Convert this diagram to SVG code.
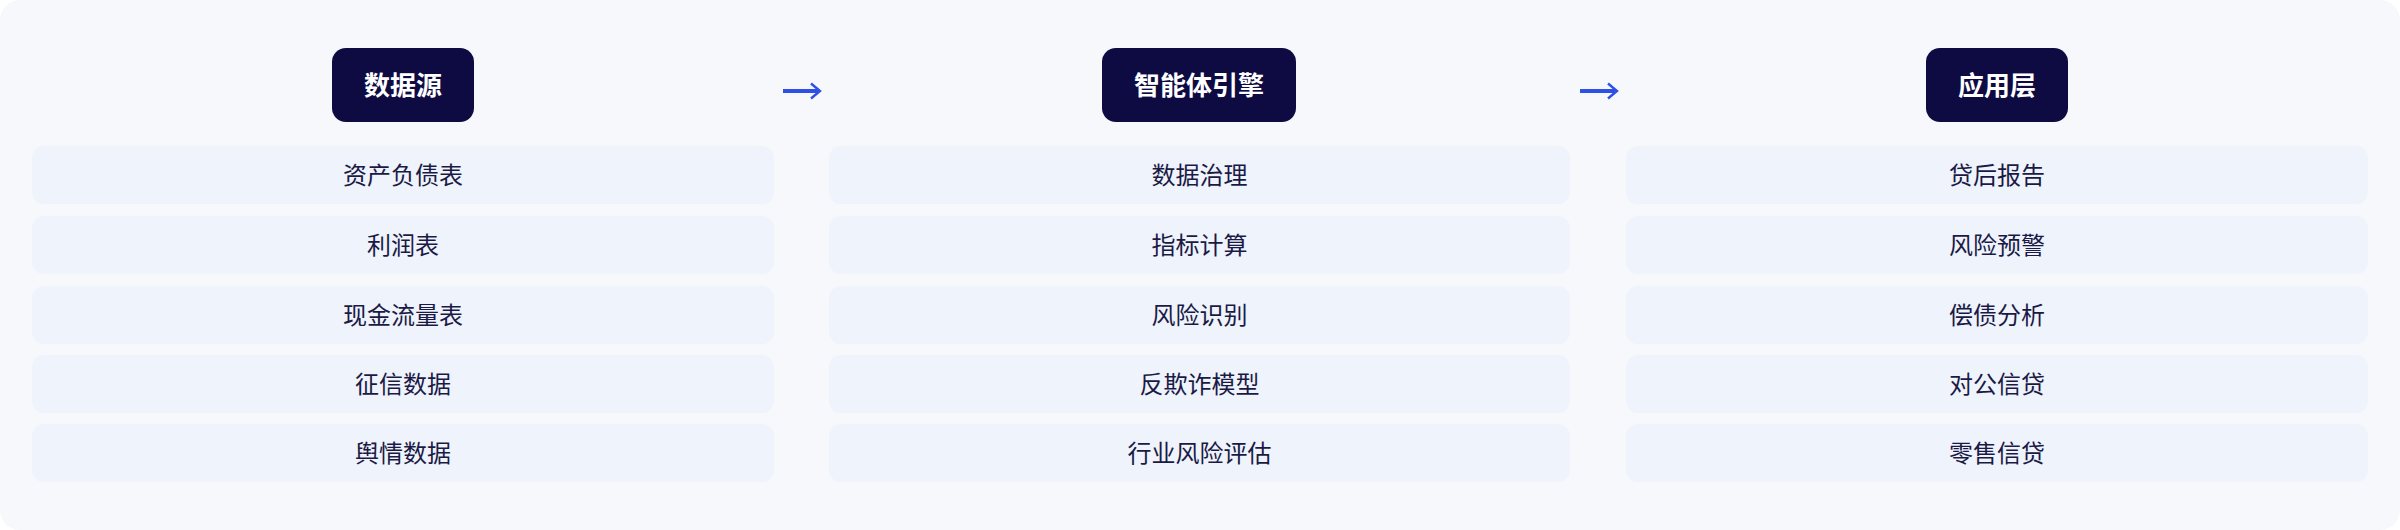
<svg xmlns="http://www.w3.org/2000/svg" width="2400" height="530" viewBox="0 0 2400 530">
  <style>
    .hdr { fill: #0E0B43; }
    .hdr-t { fill: #FFFFFF; font-family: "Noto Sans CJK SC", "Noto Sans", sans-serif; font-size: 26px; font-weight: 700; text-anchor: middle; }
    .item { fill: #EEF3FC; }
    .item-t { fill: #1B1A45; font-family: "Noto Sans CJK SC", "Noto Sans", sans-serif; font-size: 24px; font-weight: 400; text-anchor: middle; }
    .conn { stroke: #2D50E6; stroke-width: 4; fill: none; stroke-linecap: butt; stroke-linejoin: miter; }
    .head { stroke: #2D50E6; stroke-width: 2.4; fill: none; }
  </style>
  <rect x="0" y="0" width="2400" height="530" fill="#FFFFFF"/>
  <rect id="panel" x="0" y="0" width="2400" height="530" rx="20" ry="20" fill="#F7F8FB"/>

  <g id="connectors">
    <g id="arrow-1">
      <line class="conn" x1="783" y1="91" x2="818" y2="91"/>
      <polyline class="head" points="811,83.5 820,91 811,98.5"/>
    </g>
    <g id="arrow-2">
      <line class="conn" x1="1580" y1="91" x2="1615" y2="91"/>
      <polyline class="head" points="1608,83.5 1617,91 1608,98.5"/>
    </g>
  </g>

  <g id="col-datasource">
    <g id="hdr-datasource">
      <rect class="hdr" x="332" y="48" width="142" height="74" rx="14"/>
      <text class="hdr-t" x="403" y="95">数据源</text>
    </g>
    <g id="ds-1"><rect class="item" x="32" y="146" width="742" height="58" rx="12"/><text class="item-t" x="403" y="184">资产负债表</text></g>
    <g id="ds-2"><rect class="item" x="32" y="216" width="742" height="58" rx="12"/><text class="item-t" x="403" y="254">利润表</text></g>
    <g id="ds-3"><rect class="item" x="32" y="286" width="742" height="58" rx="12"/><text class="item-t" x="403" y="324">现金流量表</text></g>
    <g id="ds-4"><rect class="item" x="32" y="355" width="742" height="58" rx="12"/><text class="item-t" x="403" y="393">征信数据</text></g>
    <g id="ds-5"><rect class="item" x="32" y="424" width="742" height="58" rx="12"/><text class="item-t" x="403" y="462">舆情数据</text></g>
  </g>

  <g id="col-engine">
    <g id="hdr-engine">
      <rect class="hdr" x="1102" y="48" width="194" height="74" rx="14"/>
      <text class="hdr-t" x="1199" y="95">智能体引擎</text>
    </g>
    <g id="en-1"><rect class="item" x="829" y="146" width="741" height="58" rx="12"/><text class="item-t" x="1199.5" y="184">数据治理</text></g>
    <g id="en-2"><rect class="item" x="829" y="216" width="741" height="58" rx="12"/><text class="item-t" x="1199.5" y="254">指标计算</text></g>
    <g id="en-3"><rect class="item" x="829" y="286" width="741" height="58" rx="12"/><text class="item-t" x="1199.5" y="324">风险识别</text></g>
    <g id="en-4"><rect class="item" x="829" y="355" width="741" height="58" rx="12"/><text class="item-t" x="1199.5" y="393">反欺诈模型</text></g>
    <g id="en-5"><rect class="item" x="829" y="424" width="741" height="58" rx="12"/><text class="item-t" x="1199.5" y="462">行业风险评估</text></g>
  </g>

  <g id="col-app">
    <g id="hdr-app">
      <rect class="hdr" x="1926" y="48" width="142" height="74" rx="14"/>
      <text class="hdr-t" x="1997" y="95">应用层</text>
    </g>
    <g id="ap-1"><rect class="item" x="1626" y="146" width="742" height="58" rx="12"/><text class="item-t" x="1997" y="184">贷后报告</text></g>
    <g id="ap-2"><rect class="item" x="1626" y="216" width="742" height="58" rx="12"/><text class="item-t" x="1997" y="254">风险预警</text></g>
    <g id="ap-3"><rect class="item" x="1626" y="286" width="742" height="58" rx="12"/><text class="item-t" x="1997" y="324">偿债分析</text></g>
    <g id="ap-4"><rect class="item" x="1626" y="355" width="742" height="58" rx="12"/><text class="item-t" x="1997" y="393">对公信贷</text></g>
    <g id="ap-5"><rect class="item" x="1626" y="424" width="742" height="58" rx="12"/><text class="item-t" x="1997" y="462">零售信贷</text></g>
  </g>
</svg>
